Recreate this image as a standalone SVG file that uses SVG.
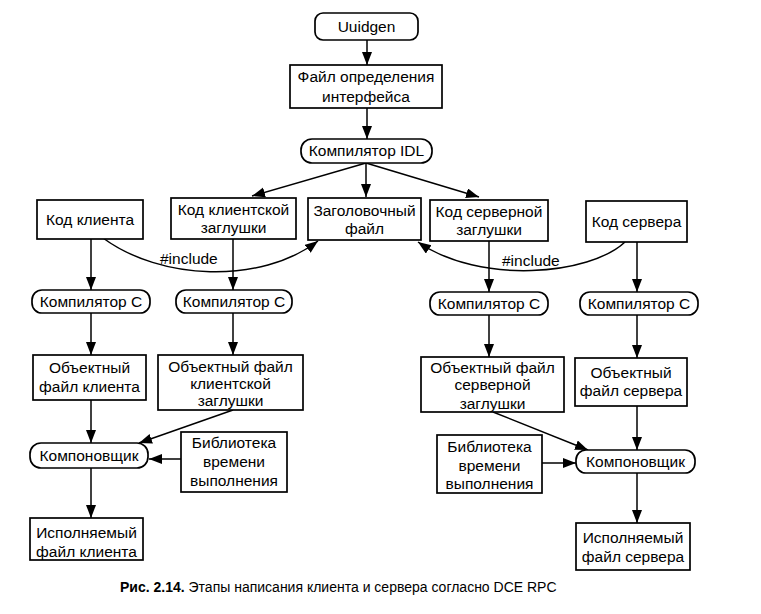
<svg xmlns="http://www.w3.org/2000/svg" width="761" height="614" viewBox="0 0 761 614">
<defs>
<marker id="ah" markerUnits="userSpaceOnUse" markerWidth="14" markerHeight="11" refX="13" refY="5" orient="auto">
<path d="M0,0 L13,5 L0,10 z" fill="#000"/>
</marker>
<style>
.b{fill:#fff;stroke:#000;stroke-width:1.7}
.t{font-family:"Liberation Sans",Arial,sans-serif;font-size:15.5px;fill:#000;text-anchor:middle}
.c{fill:none;stroke:#000;stroke-width:1.5;marker-end:url(#ah)}
.l{font-family:"Liberation Sans",Arial,sans-serif;font-size:15.5px;fill:#000}
.cap{font-family:"Liberation Sans",Arial,sans-serif;font-size:14px;fill:#000}
</style>
</defs>
<rect width="761" height="614" fill="#fff"/>
<g id="connectors">
<path class="c" d="M367,40 V65"/>
<path class="c" d="M367,108 V139"/>
<path class="c" d="M366,163 L252,196"/>
<path class="c" d="M366,163 V197"/>
<path class="c" d="M366,163 L479,197"/>
<path class="c" d="M91,239 V290"/>
<path class="c" d="M233,239 V290"/>
<path class="c" d="M489,241 V292"/>
<path class="c" d="M637,242 V292"/>
<path class="c" d="M103,238 C160,280 260,285 318,241"/>
<path class="c" d="M625,242 C590,275 480,285 418,242"/>
<path class="c" d="M91,313 V355"/>
<path class="c" d="M233,313 V355"/>
<path class="c" d="M489,315 V357"/>
<path class="c" d="M637,315 V358"/>
<path class="c" d="M91,400 V443"/>
<path class="c" d="M233,410 L139,443"/>
<path class="c" d="M181,459 H149"/>
<path class="c" d="M91,468 V518"/>
<path class="c" d="M493,412 L588,450"/>
<path class="c" d="M637,406 V450"/>
<path class="c" d="M542,463 H576"/>
<path class="c" d="M637,473 V523"/>
<text class="l" x="160" y="264">#include</text>
<text class="l" x="502" y="266">#include</text>
</g>
<g id="uuidgen"><rect class="b" x="315" y="13" width="103" height="27" rx="8"/><text class="t" x="366.5" y="32">Uuidgen</text></g>
<g id="idl_file"><rect class="b" x="290" y="65" width="152" height="43"/><text class="t" x="366" y="82">Файл определения</text><text class="t" x="366" y="102">интерфейса</text></g>
<g id="idl_compiler"><rect class="b" x="301" y="139" width="131" height="24" rx="11"/><text class="t" x="366.5" y="156">Компилятор IDL</text></g>
<g id="client_code"><rect class="b" x="37" y="200" width="106" height="39"/><text class="t" x="90" y="225">Код клиента</text></g>
<g id="client_stub"><rect class="b" x="171" y="198" width="125" height="41"/><text class="t" x="233.5" y="215">Код клиентской</text><text class="t" x="233.5" y="233">заглушки</text></g>
<g id="header"><rect class="b" x="308" y="198" width="113" height="42"/><text class="t" x="364.5" y="216">Заголовочный</text><text class="t" x="364.5" y="234">файл</text></g>
<g id="server_stub"><rect class="b" x="430" y="200" width="118" height="41"/><text class="t" x="489" y="217">Код серверной</text><text class="t" x="489" y="235">заглушки</text></g>
<g id="server_code"><rect class="b" x="586" y="201" width="101" height="41"/><text class="t" x="636.5" y="227">Код сервера</text></g>
<g id="cc1"><rect class="b" x="32" y="290" width="118" height="23" rx="10"/><text class="t" x="91" y="307">Компилятор С</text></g>
<g id="cc2"><rect class="b" x="176" y="290" width="116" height="23" rx="10"/><text class="t" x="234" y="307">Компилятор С</text></g>
<g id="cc3"><rect class="b" x="430" y="292" width="118" height="23" rx="10"/><text class="t" x="489" y="309">Компилятор С</text></g>
<g id="cc4"><rect class="b" x="580" y="292" width="118" height="23" rx="10"/><text class="t" x="639" y="309">Компилятор С</text></g>
<g id="obj_client"><rect class="b" x="33" y="355" width="113" height="45"/><text class="t" x="89.5" y="373">Объектный</text><text class="t" x="89.5" y="392">файл клиента</text></g>
<g id="obj_cstub"><rect class="b" x="158" y="355" width="145" height="55"/><text class="t" x="230.5" y="372">Объектный файл</text><text class="t" x="230.5" y="389">клиентской</text><text class="t" x="230.5" y="406">заглушки</text></g>
<g id="linker_l"><rect class="b" x="30" y="443" width="118" height="25" rx="11"/><text class="t" x="89" y="461">Компоновщик</text></g>
<g id="lib_l"><rect class="b" x="181" y="432" width="106" height="60"/><text class="t" x="234" y="448">Библиотека</text><text class="t" x="234" y="467">времени</text><text class="t" x="234" y="486">выполнения</text></g>
<g id="exe_client"><rect class="b" x="30" y="518" width="113" height="42"/><text class="t" x="86.5" y="538">Исполняемый</text><text class="t" x="86.5" y="557">файл клиента</text></g>
<g id="obj_sstub"><rect class="b" x="421" y="357" width="143" height="55"/><text class="t" x="492.5" y="373">Объектный файл</text><text class="t" x="492.5" y="390">серверной</text><text class="t" x="492.5" y="409">заглушки</text></g>
<g id="obj_server"><rect class="b" x="575" y="358" width="112" height="48"/><text class="t" x="631" y="378">Объектный</text><text class="t" x="631" y="396">файл сервера</text></g>
<g id="linker_r"><rect class="b" x="576" y="450" width="119" height="23" rx="10"/><text class="t" x="635.5" y="467">Компоновщик</text></g>
<g id="lib_r"><rect class="b" x="437" y="435" width="105" height="58"/><text class="t" x="489.5" y="452">Библиотека</text><text class="t" x="489.5" y="471">времени</text><text class="t" x="489.5" y="489">выполнения</text></g>
<g id="exe_server"><rect class="b" x="576" y="523" width="114" height="47"/><text class="t" x="633" y="543">Исполняемый</text><text class="t" x="633" y="562">файл сервера</text></g>
<text class="cap" x="120" y="592"><tspan font-weight="bold">Рис. 2.14.</tspan> Этапы написания клиента и сервера согласно DCE RPC</text>
</svg>
